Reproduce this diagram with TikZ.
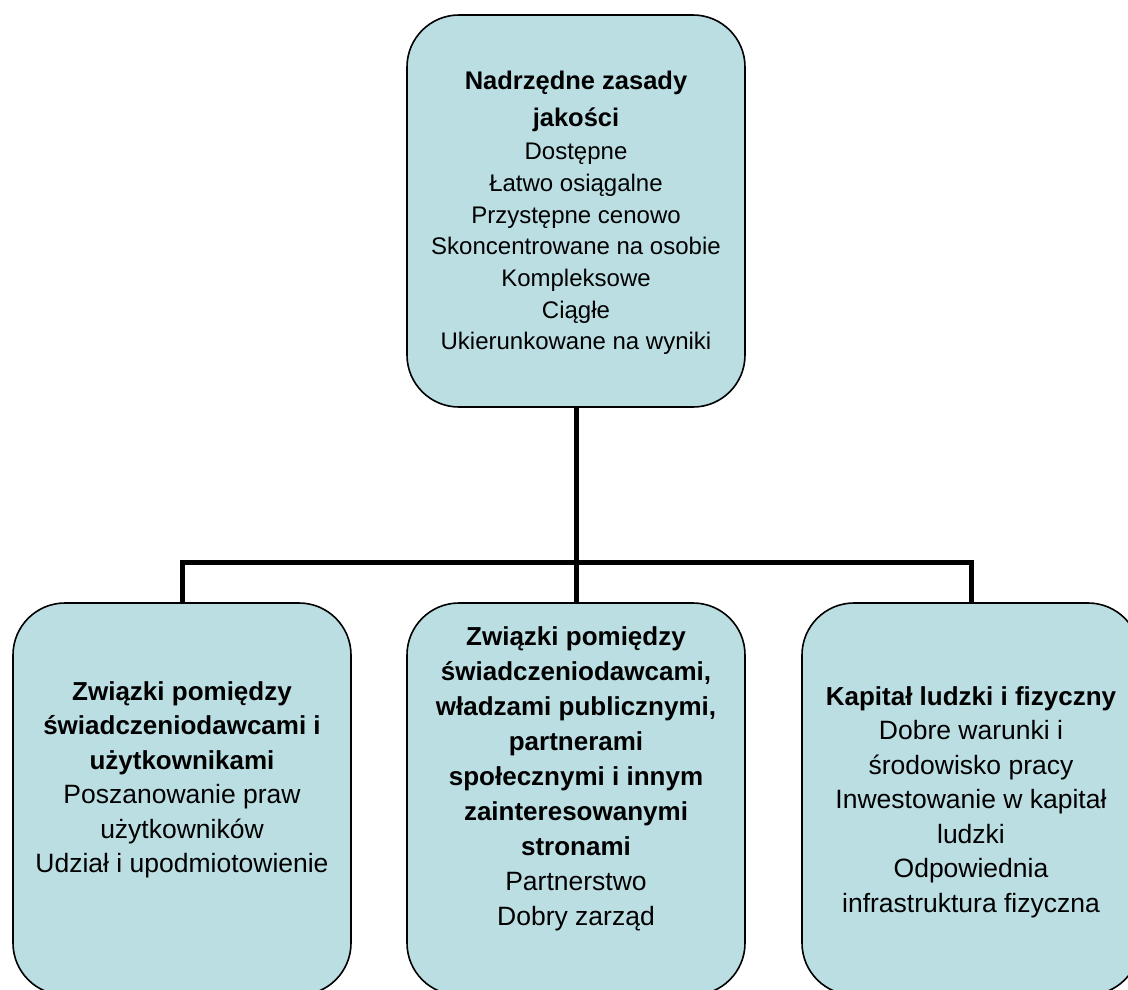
\documentclass[tikz,border=0pt]{standalone}
\usepackage{fontspec}
\setmainfont{Liberation Sans}
\definecolor{boxfill}{RGB}{187,222,227}
\tikzset{
  box/.style={draw=black, line width=1.6pt, fill=boxfill, rounded corners=52pt,
    minimum width=338pt, minimum height=392pt, inner sep=0pt, outer sep=0pt},
  conn/.style={draw=black, line width=5pt},
  toptext/.style={align=center, inner sep=0pt, font=\fontsize{24}{31.7}\selectfont},
  bottext/.style={align=center, inner sep=0pt, font=\fontsize{26.5}{34.5}\selectfont},
}
\newcommand{\bhead}[1]{{\fontsize{25.5}{31.7}\selectfont\bfseries #1}}
\newcommand{\bheadb}[1]{{\fontsize{26}{34.5}\selectfont\bfseries #1}}
\begin{document}
\begin{tikzpicture}[x=1pt,y=-1pt]
\useasboundingbox (0,0) rectangle (1128,989);
\clip (0,0) rectangle (1128,989);
% boxes
\node[box] (top) at (576,211) {};
\node[box] (left) at (182,799) {};
\node[box] (mid) at (576,799) {};
\node[box] (right) at (971,799) {};
% connectors
\coordinate (junction) at (576,562);
\draw[conn] (top.south) -- (mid.north);
\draw[conn] (left.north) |- (junction) -| (right.north);
% texts
\node[toptext] (toplabel) at (576,213) {\bhead{Nadrzędne zasady}\\[5pt]\bhead{jakości}\\[1.5pt]Dostępne\\Łatwo osiągalne\\Przystępne cenowo\\Skoncentrowane na osobie\\Kompleksowe\\Ciągłe\\Ukierunkowane na wyniki};
\node[bottext] (leftlabel) at (182,780) {\bheadb{Związki pomiędzy}\\\bheadb{świadczeniodawcami i}\\\bheadb{użytkownikami}\\Poszanowanie praw\\użytkowników\\Udział i upodmiotowienie};
\node[bottext, font=\fontsize{26.5}{35}\selectfont] (midlabel) at (576,779) {\bheadb{Związki pomiędzy}\\\bheadb{świadczeniodawcami,}\\\bheadb{władzami publicznymi,}\\\bheadb{partnerami}\\\bheadb{społecznymi i innym}\\\bheadb{zainteresowanymi}\\\bheadb{stronami}\\Partnerstwo\\Dobry zarząd};
\node[bottext] (rightlabel) at (971,802) {\bheadb{Kapitał ludzki i fizyczny}\\Dobre warunki i\\środowisko pracy\\Inwestowanie w kapitał\\ludzki\\Odpowiednia\\infrastruktura fizyczna};
\end{tikzpicture}
\end{document}
